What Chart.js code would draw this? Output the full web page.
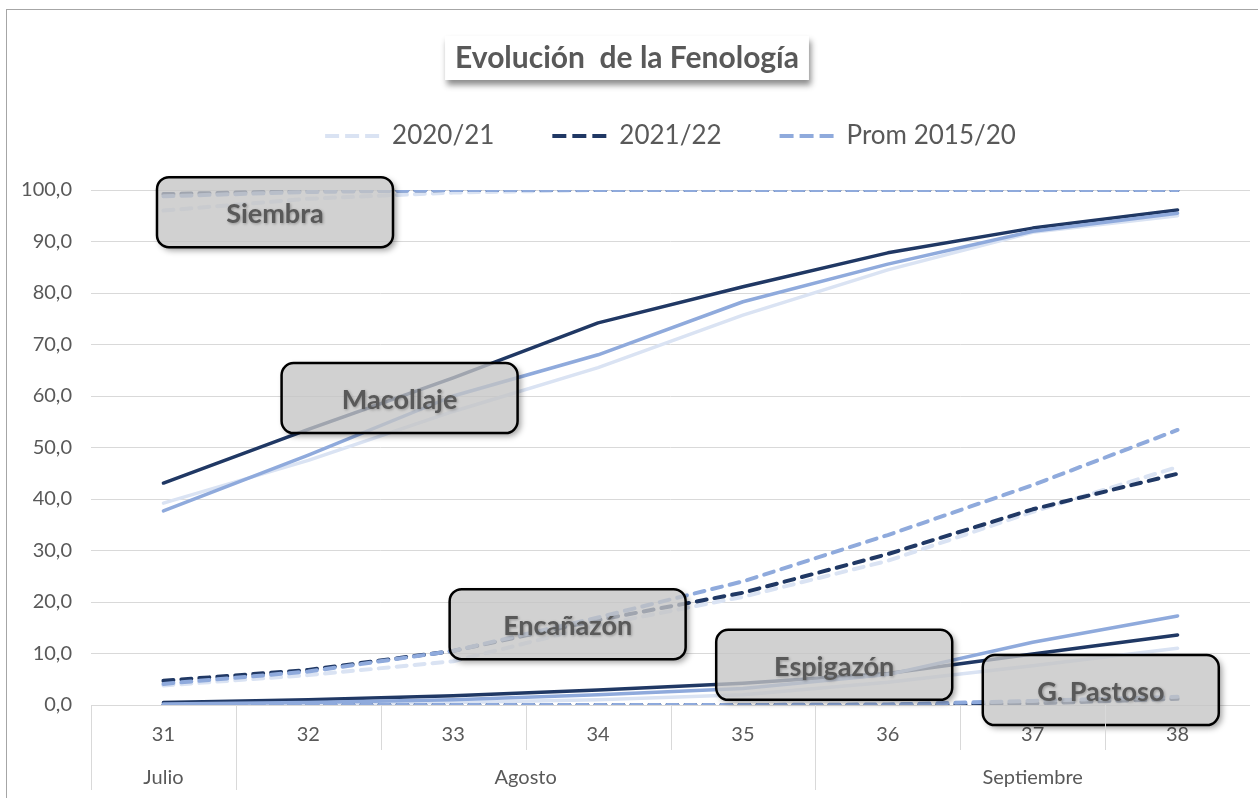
<!DOCTYPE html>
<html>
<head>
<meta charset="utf-8">
<script src="https://cdn.jsdelivr.net/npm/chart.js@4.4.1/dist/chart.umd.min.js"></script>
<style>
  html, body { margin: 0; padding: 0; background: #fff; overflow: hidden; }
  #marco { position: absolute; left: 6px; top: 9px; width: 1300px; height: 840px; border: 1px solid #a6a6a6; box-sizing: border-box; }
  #grafico { position: absolute; left: 0; top: 0; }
</style>
</head>
<body>
<div id="marco"></div>
<canvas id="grafico" width="1258" height="798"></canvas>
<script>
const semanas = ['31', '32', '33', '34', '35', '36', '37', '38'];
const meses = ['Julio', 'Agosto', 'Septiembre'];
const semanasPorMes = [1, 4, 3];
const campanias = ['2020/21', '2021/22', 'Prom 2015/20'];

// % de avance por etapa (2020/21, 2021/22, promedio 2015/20)
const siembra2021 = [96.0, 98.3, 99.5, 100, 100, 100, 100, 100];
const siembra2122 = [99.2, 99.8, 100, 100, 100, 100, 100, 100];
const siembraProm = [98.8, 99.6, 100, 100, 100, 100, 100, 100];

const macollaje2021 = [39.2, 47.5, 57.0, 65.5, 75.7, 84.5, 91.8, 95.0];
const macollaje2122 = [43.1, 53.5, 63.5, 74.2, 81.2, 87.8, 92.6, 96.1];
const macollajeProm = [37.7, 48.5, 60.0, 68.0, 78.3, 85.6, 92.0, 95.5];

const encanazon2021 = [3.8, 5.8, 8.5, 15.5, 21.0, 28.0, 37.5, 46.2];
const encanazon2122 = [4.7, 6.8, 10.5, 16.5, 21.8, 29.3, 38.0, 44.9];
const encanazonProm = [4.1, 6.5, 10.5, 17.0, 24.0, 33.0, 42.7, 53.4];

const espigazon2021 = [0.0, 0.2, 0.5, 1.0, 2.0, 4.4, 7.6, 11.0];
const espigazon2122 = [0.5, 1.0, 1.8, 2.9, 4.2, 6.1, 9.9, 13.6];
const espigazonProm = [0.2, 0.5, 1.0, 2.0, 3.2, 5.9, 12.2, 17.3];

const pastoso2021 = [0, 0, 0, 0, 0, 0, 0.4, 1.3];
const pastoso2122 = [0, 0, 0, 0, 0, 0, 0.3, 1.2];
const pastosoProm = [0, 0, 0, 0, 0, 0.1, 0.8, 1.6];

const etapas = [
    { nombre: 'Siembra', discontinua: true, valores: [siembra2021, siembra2122, siembraProm] },
    { nombre: 'Macollaje', discontinua: false, valores: [macollaje2021, macollaje2122, macollajeProm] },
    { nombre: 'Encañazón', discontinua: true, valores: [encanazon2021, encanazon2122, encanazonProm] },
    { nombre: 'Espigazón', discontinua: false, valores: [espigazon2021, espigazon2122, espigazonProm] },
    { nombre: 'G. Pastoso', discontinua: true, valores: [pastoso2021, pastoso2122, pastosoProm] }
];

const colores = ['#DAE3F3', '#203864', '#8FAADC'];
const capas = [2, 1, 0];
const fuente = 'Lato, "Open Sans", sans-serif';
const gris = '#595959';

// cajas de texto de cada etapa (posicion en semana / %)
const cajas = [
    { texto: 'Siembra', x: 0.77, y: 95.7 },
    { texto: 'Macollaje', x: 1.63, y: 59.6 },
    { texto: 'Encañazón', x: 2.79, y: 15.7 },
    { texto: 'Espigazón', x: 4.63, y: 7.8 },
    { texto: 'G. Pastoso', x: 6.47, y: 2.9 }
];

const datasets = [];
etapas.forEach(et => {
    et.valores.forEach((vals, j) => {
        datasets.push({
            label: campanias[j],
            data: vals,
            borderColor: colores[j],
            backgroundColor: colores[j],
            borderWidth: et.discontinua ? 4 : 3.5,
            borderDash: et.discontinua ? [10, 8] : [],
            borderCapStyle: 'round',
            borderJoinStyle: 'round',
            pointRadius: 0,
            tension: 0,
            fill: false,
            order: capas[j]
        });
    });
});

const tituloPlugin = {
    id: 'tituloCaja',
    beforeDraw(chart) {
        const ctx = chart.ctx;
        const texto = 'Evolución  de la Fenología';
        ctx.save();
        ctx.font = 'bold 30px ' + fuente;
        const w = ctx.measureText(texto).width + 20;
        const h = 44;
        const cx = chart.width / 2 - 2;
        const cy = 58;
        ctx.shadowColor = 'rgba(0,0,0,0.45)';
        ctx.shadowBlur = 6;
        ctx.shadowOffsetX = 2;
        ctx.shadowOffsetY = 5;
        ctx.fillStyle = '#fff';
        ctx.fillRect(cx - w / 2, cy - h / 2, w, h);
        ctx.shadowColor = 'transparent';
        ctx.fillStyle = gris;
        ctx.textAlign = 'center';
        ctx.textBaseline = 'middle';
        ctx.fillText(texto, cx, cy);
        ctx.restore();
    }
};

const ejeMesesPlugin = {
    id: 'ejeMeses',
    afterDraw(chart) {
        const ctx = chart.ctx;
        const xs = chart.scales.x;
        const base = chart.chartArea.bottom;
        const limites = [0];
        semanasPorMes.reduce((acc, n) => { limites.push(acc + n); return acc + n; }, 0);
        ctx.save();
        ctx.strokeStyle = '#d9d9d9';
        ctx.lineWidth = 1;
        for (let i = 0; i < semanas.length; i++) {
            const x = Math.round(xs.getPixelForValue(i - 0.5)) + 0.5;
            const largo = limites.includes(i) ? 85 : 45;
            ctx.beginPath();
            ctx.moveTo(x, base);
            ctx.lineTo(x, base + largo);
            ctx.stroke();
        }
        ctx.fillStyle = gris;
        ctx.font = '20px ' + fuente;
        ctx.textAlign = 'center';
        ctx.textBaseline = 'middle';
        meses.forEach((m, k) => {
            const a = xs.getPixelForValue(limites[k]);
            const b = xs.getPixelForValue(limites[k + 1] - 1);
            ctx.fillText(m, (a + b) / 2, base + 73);
        });
        ctx.restore();
    }
};

const cajasPlugin = {
    id: 'cajasEtapas',
    afterDatasetsDraw(chart) {
        const ctx = chart.ctx;
        const xs = chart.scales.x;
        const ys = chart.scales.y;
        const w = 236, h = 70, r = 12;
        cajas.forEach(c => {
            const cx = xs.getPixelForValue(c.x);
            const cy = ys.getPixelForValue(c.y);
            const x0 = cx - w / 2, y0 = cy - h / 2;
            // sombra solo por fuera
            ctx.save();
            ctx.beginPath();
            ctx.rect(0, 0, chart.width, chart.height);
            ctx.roundRect(x0, y0, w, h, r);
            ctx.clip('evenodd');
            ctx.shadowColor = 'rgba(0,0,0,0.4)';
            ctx.shadowBlur = 6;
            ctx.shadowOffsetX = 3;
            ctx.shadowOffsetY = 3;
            ctx.fillStyle = '#000';
            ctx.beginPath();
            ctx.roundRect(x0, y0, w, h, r);
            ctx.fill();
            ctx.restore();

            ctx.save();
            ctx.beginPath();
            ctx.roundRect(x0, y0, w, h, r);
            ctx.fillStyle = 'rgba(196,196,196,0.78)';
            ctx.fill();
            ctx.lineWidth = 2.5;
            ctx.strokeStyle = '#000';
            ctx.stroke();
            ctx.font = 'bold 27px ' + fuente;
            ctx.textAlign = 'center';
            ctx.textBaseline = 'middle';
            ctx.shadowColor = 'rgba(0,0,0,0.3)';
            ctx.shadowBlur = 3;
            ctx.shadowOffsetX = 1;
            ctx.shadowOffsetY = 1;
            ctx.fillStyle = gris;
            ctx.fillText(c.texto, cx, cy + 2);
            ctx.restore();
        });
    }
};

new Chart(document.getElementById('grafico'), {
    type: 'line',
    data: { labels: semanas, datasets: datasets },
    plugins: [tituloPlugin, ejeMesesPlugin, cajasPlugin],
    options: {
        responsive: false,
        animation: false,
        devicePixelRatio: 1,
        layout: { padding: { top: 65, left: 0, right: 8, bottom: 0 } },
        plugins: {
            tooltip: { enabled: false },
            title: { display: false },
            // espacio entre la leyenda y el area del grafico
            subtitle: {
                display: true,
                text: '',
                weight: 500,
                font: { size: 1, lineHeight: 1 },
                padding: { top: 30, bottom: 0 }
            },
            legend: {
                position: 'top',
                fullSize: false,
                labels: {
                    usePointStyle: true,
                    pointStyle: 'line',
                    pointStyleWidth: 54,
                    padding: 58,
                    color: gris,
                    font: { family: fuente, size: 26 },
                    generateLabels: (chart) => campanias.map((c, j) => ({
                        text: c,
                        fillStyle: colores[j],
                        strokeStyle: colores[j],
                        lineWidth: 4,
                        lineDash: [14, 6],
                        lineCap: 'butt',
                        pointStyle: 'line',
                        fontColor: gris,
                        hidden: false,
                        datasetIndex: j
                    }))
                }
            }
        },
        scales: {
            x: {
                offset: true,
                grid: { display: false, drawTicks: false },
                border: { display: false },
                ticks: { padding: 18, color: gris, font: { family: fuente, size: 20 }, maxRotation: 0, autoSkip: false },
                afterFit: (s) => { s.height = 93; }
            },
            y: {
                min: 0,
                max: 100,
                grid: { color: '#d9d9d9', lineWidth: 1, drawTicks: false },
                border: { display: false },
                ticks: {
                    stepSize: 10,
                    padding: 19,
                    color: gris,
                    font: { family: fuente, size: 20 },
                    callback: (v) => v.toFixed(1).replace('.', ',')
                },
                afterFit: (s) => { s.width = 91; }
            }
        }
    }
});
</script>
</body>
</html>
